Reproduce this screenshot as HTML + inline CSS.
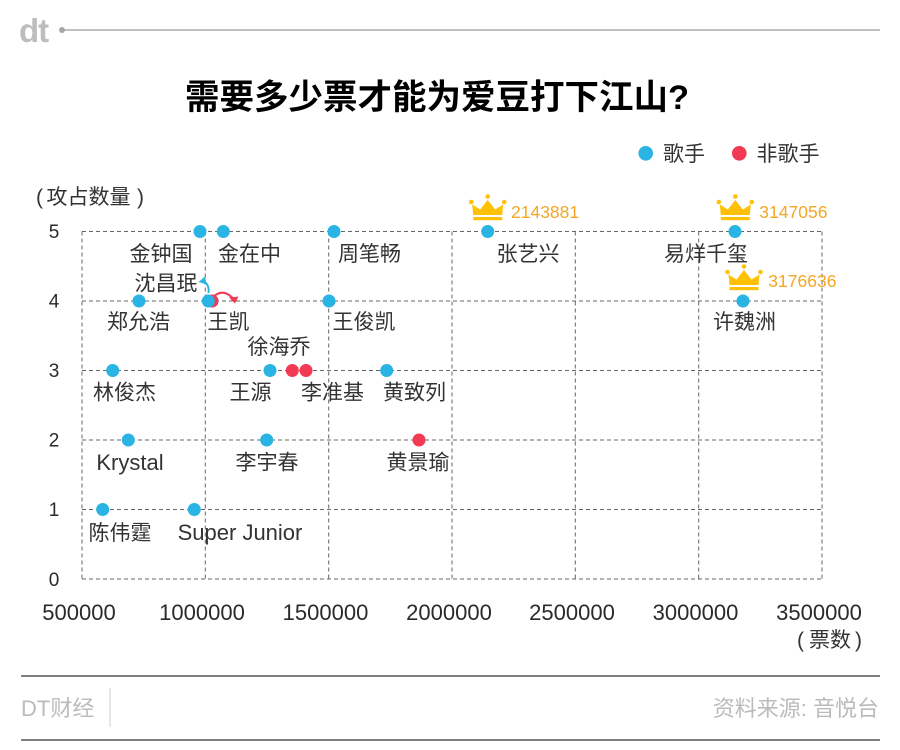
<!DOCTYPE html>
<html>
<head>
<meta charset="utf-8">
<style>
  html, body { margin: 0; padding: 0; background: #ffffff; }
  body { width: 900px; height: 750px; overflow: hidden; }
  svg { display: block; }
  .lbl { font-family: "Liberation Sans", "Noto Sans CJK SC", sans-serif; font-size: 21px; fill: #333333; }
  .lat { font-family: "Liberation Sans", "Noto Sans CJK SC", sans-serif; font-size: 22px; fill: #333333; }
  .tick { font-family: "Liberation Sans", sans-serif; fill: #2a2a2a; }
  .num { font-family: "Liberation Sans", sans-serif; font-size: 17.5px; fill: #f5a623; }
</style>
</head>
<body>
<svg width="900" height="750" viewBox="0 0 900 750" xmlns="http://www.w3.org/2000/svg">
  <rect x="0" y="0" width="900" height="750" fill="#ffffff"/>

  <!-- header logo -->
  <text x="19" y="42" font-family="Liberation Sans, sans-serif" font-weight="bold" font-size="33" fill="#bdbdbd" letter-spacing="-1">dt</text>
  <circle cx="62" cy="30" r="3" fill="#a8a8a8"/>
  <line x1="63" y1="30" x2="880" y2="30" stroke="#9a9a9a" stroke-width="1.2"/>

  <!-- title -->
  <text x="437" y="109" text-anchor="middle" font-family="Liberation Sans, 'Noto Sans CJK SC', sans-serif" font-weight="bold" font-size="34.5" fill="#000000">需要多少票才能为爱豆打下江山?</text>

  <!-- legend -->
  <circle cx="645.7" cy="153.3" r="7.3" fill="#29b4e3"/>
  <text x="663" y="161" class="lbl">歌手</text>
  <circle cx="739.3" cy="153.3" r="7.3" fill="#f33a55"/>
  <text x="756.5" y="161" class="lbl">非歌手</text>

  <!-- y axis title -->
  <text x="36" y="204" class="lbl">(</text>
  <text x="46.5" y="204" class="lbl">攻占数量</text>
  <text x="137" y="204" class="lbl">)</text>

  <!-- grid -->
  <g stroke="#666666" stroke-width="1" stroke-dasharray="4,3" fill="none">
    <line x1="82" y1="231.5" x2="822" y2="231.5"/>
    <line x1="82" y1="301" x2="822" y2="301"/>
    <line x1="82" y1="370.5" x2="822" y2="370.5"/>
    <line x1="82" y1="440" x2="822" y2="440"/>
    <line x1="82" y1="509.5" x2="822" y2="509.5"/>
    <line x1="82" y1="579" x2="822" y2="579"/>
    <line x1="82" y1="231.5" x2="82" y2="579"/>
    <line x1="205.3" y1="231.5" x2="205.3" y2="579"/>
    <line x1="328.7" y1="231.5" x2="328.7" y2="579"/>
    <line x1="452" y1="231.5" x2="452" y2="579"/>
    <line x1="575.3" y1="231.5" x2="575.3" y2="579"/>
    <line x1="698.7" y1="231.5" x2="698.7" y2="579"/>
    <line x1="822" y1="231.5" x2="822" y2="579"/>
  </g>

  <!-- y tick labels -->
  <g class="tick" font-size="19" text-anchor="middle">
    <text x="54" y="238">5</text>
    <text x="54" y="307.5">4</text>
    <text x="54" y="377">3</text>
    <text x="54" y="446.5">2</text>
    <text x="54" y="516">1</text>
    <text x="54" y="586">0</text>
  </g>

  <!-- x tick labels -->
  <g class="tick" font-size="22" text-anchor="middle">
    <text x="79" y="620">500000</text>
    <text x="202" y="620">1000000</text>
    <text x="325.5" y="620">1500000</text>
    <text x="449" y="620">2000000</text>
    <text x="572" y="620">2500000</text>
    <text x="695.5" y="620">3000000</text>
    <text x="819" y="620">3500000</text>
  </g>
  <text x="797" y="647" class="lbl">(</text>
  <text x="809" y="647" class="lbl">票数</text>
  <text x="855" y="647" class="lbl">)</text>

  <!-- arrows -->
  <path d="M208.5 293 Q209.5 285 204 281.5" stroke="#29b4e3" stroke-width="2" fill="none"/>
  <polygon points="198.5,282 205,276.5 206.5,284.5" fill="#29b4e3"/>
  <path d="M213 297 Q223 288 232.5 298" stroke="#f33a55" stroke-width="2" fill="none"/>
  <polygon points="229,297.5 238.5,296.5 235,303.5" fill="#f33a55"/>

  <!-- red dots (non-singers) -->
  <g fill="#f33a55">
    <circle cx="212" cy="301" r="6.5"/>
    <circle cx="292.3" cy="370.5" r="6.5"/>
    <circle cx="306" cy="370.5" r="6.5"/>
    <circle cx="419" cy="440" r="6.5"/>
  </g>

  <!-- blue dots (singers) -->
  <g fill="#29b4e3">
    <circle cx="200" cy="231.5" r="6.5"/>
    <circle cx="223.3" cy="231.5" r="6.5"/>
    <circle cx="334" cy="231.5" r="6.5"/>
    <circle cx="487.7" cy="231.5" r="6.5"/>
    <circle cx="735" cy="231.5" r="6.5"/>
    <circle cx="139" cy="301" r="6.5"/>
    <circle cx="208.3" cy="301" r="6.5"/>
    <circle cx="329" cy="301" r="6.5"/>
    <circle cx="743" cy="301" r="6.5"/>
    <circle cx="112.7" cy="370.5" r="6.5"/>
    <circle cx="270" cy="370.5" r="6.5"/>
    <circle cx="386.7" cy="370.5" r="6.5"/>
    <circle cx="128.3" cy="440" r="6.5"/>
    <circle cx="266.7" cy="440" r="6.5"/>
    <circle cx="102.7" cy="509.5" r="6.5"/>
    <circle cx="194.3" cy="509.5" r="6.5"/>
  </g>

  <!-- crowns -->
  <defs>
    <g id="crown">
      <circle cx="-16.5" cy="5.5" r="2.3" fill="#ffc107"/>
      <circle cx="0" cy="0" r="2.3" fill="#ffc107"/>
      <circle cx="16.5" cy="5.5" r="2.3" fill="#ffc107"/>
      <polygon points="-15.5,8 -7.5,13 0,3.5 7.5,13 15.5,8 14.5,18.5 -14.5,18.5" fill="#ffc107"/>
      <rect x="-14.5" y="20.5" width="29" height="3.2" fill="#ffc107"/>
    </g>
  </defs>
  <use href="#crown" transform="translate(487.7,196.5)"/>
  <use href="#crown" transform="translate(735.3,196.5)"/>
  <use href="#crown" transform="translate(744,266.5)"/>
  <text x="511" y="218" class="num">2143881</text>
  <text x="759.3" y="218" class="num">3147056</text>
  <text x="768.3" y="287" class="num">3176636</text>

  <!-- labels -->
  <g class="lbl" text-anchor="middle">
    <text x="161" y="261">金钟国</text>
    <text x="249.5" y="261">金在中</text>
    <text x="369.5" y="261">周笔畅</text>
    <text x="528" y="261">张艺兴</text>
    <text x="706" y="261">易烊千玺</text>
    <text x="166" y="290.5">沈昌珉</text>
    <text x="138.5" y="329">郑允浩</text>
    <text x="228.5" y="329">王凯</text>
    <text x="364" y="329">王俊凯</text>
    <text x="744.5" y="329">许魏洲</text>
    <text x="279" y="354">徐海乔</text>
    <text x="124.5" y="399.5">林俊杰</text>
    <text x="250.5" y="399.5">王源</text>
    <text x="332.5" y="399.5">李准基</text>
    <text x="414.5" y="399.5">黄致列</text>
    <text x="267" y="469.5">李宇春</text>
    <text x="418" y="469.5">黄景瑜</text>
    <text x="120" y="540">陈伟霆</text>
  </g>
  <g class="lat" text-anchor="middle">
    <text x="130" y="470">Krystal</text>
    <text x="240" y="540">Super Junior</text>
  </g>

  <!-- footer -->
  <line x1="21" y1="676" x2="880" y2="676" stroke="#555555" stroke-width="1.5"/>
  <line x1="21" y1="740" x2="880" y2="740" stroke="#555555" stroke-width="1.5"/>
  <line x1="110" y1="688" x2="110" y2="727" stroke="#cccccc" stroke-width="1"/>
  <text x="21" y="716" font-family="Liberation Sans, 'Noto Sans CJK SC', sans-serif" font-size="22" fill="#bbbbbb">DT财经</text>
  <text x="879" y="716" text-anchor="end" font-family="Liberation Sans, 'Noto Sans CJK SC', sans-serif" font-size="22" fill="#bbbbbb">资料来源: 音悦台</text>
</svg>
</body>
</html>
